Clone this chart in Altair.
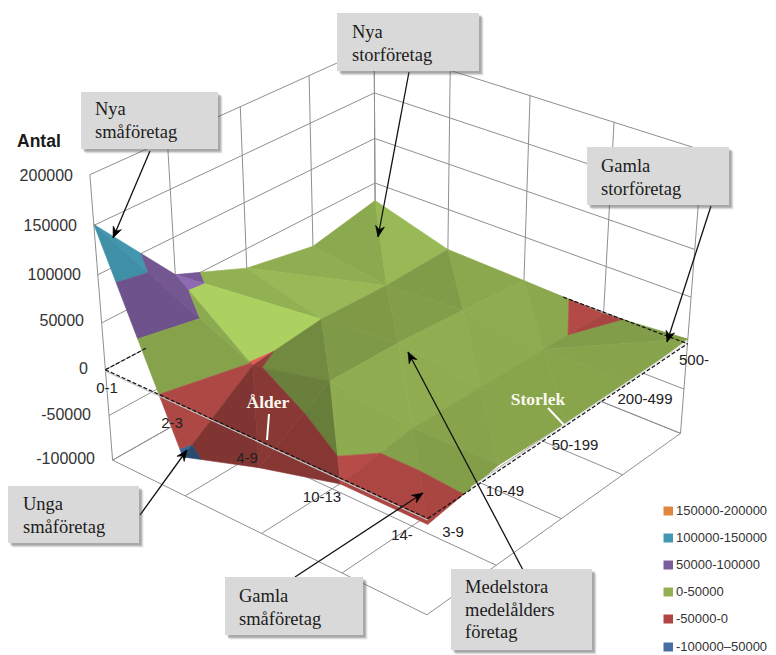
import altair as alt
import numpy as np
import pandas as pd

AGE = ["0-1", "2-3", "4-9", "10-13", "14-"]
SIZE = ["3-9", "10-49", "50-199", "200-499", "500-"]
Z_TICKS = [200000, 150000, 100000, 50000, 0, -50000, -100000]

# antal (thousands): rows = age, columns = size
ANTAL = [
    [151, 61, 29, 15, 30],
    [-57, -2.5, 6, 3, 5],
    [-29, 17, 15, 9, 2],
    [-6, 5, 3, 1, -1.5],
    [-6, 6, 3, 1, 5],
]
# 1: cell is split along (u,v)-(u+1,v+1); 0: along the other diagonal
DIAG = [
    [1, 1, 1, 0],
    [0, 0, 0, 0],
    [0, 0, 0, 0],
    [0, 0, 0, 1],
]

LEGEND_LABELS = ["150000-200000", "100000-150000", "50000-100000", "0-50000", "-50000-0", "-100000–50000"]
LEGEND_COLORS = ["#E0873F", "#4397B0", "#7A5D9B", "#93B055", "#AF4644", "#466EA5"]
BANDS = [(150, 200, "#DE8A3C"), (100, 150, "#4398B0"), (50, 100, "#755793"),
         (0, 50, "#8EAC50"), (-50, 0, "#B84C48"), (-100, -50, "#3D6A9C")]

CALLOUTS = [
    (["Nya", "småföretag"], (81, 92, 218, 149), 95, 115),
    (["Nya", "storföretag"], (337, 13, 479, 71), 352, 38),
    (["Gamla", "storföretag"], (587, 147, 729, 205), 601, 172),
    (["Unga", "småföretag"], (8, 486, 139, 543), 23, 510),
    (["Gamla", "småföretag"], (225, 577, 363, 635), 239, 602),
    (["Medelstora", "medelålders", "företag"], (451, 569, 592, 650), 465, 593),
]
ARROWS = [
    ((150, 151), (113, 238)),
    ((409, 72), (378, 237)),
    ((711, 206), (667, 342)),
    ((140, 515), (187, 450)),
    ((295, 577), (423, 493)),
    ((523, 570), (408, 352)),
]

# camera anchors: (age index, size index, antal/100000) -> picture position
ANCHORS = [
    (0, 0, 2, 90, 175), (0, 0, 0, 104, 369), (0, 0, -1, 113, 458),
    (4, 0, -1, 427, 616), (4, 0, 0, 428, 520),
    (4, 4, 2, 701, 152), (4, 4, 0, 690, 342), (4, 4, -1, 681, 432),
    (0, 4, 2, 375, 45), (0, 4, 0, 375, 226), (0, 4, -1, 375, 315),
    (1, 0, -1, 186, 496), (2, 0, -1, 262, 533), (3, 0, -1, 343, 573),
    (4, 1, -1, 495, 567), (4, 2, -1, 560, 518), (4, 3, -1, 622, 473),
]

A, b = [], []
for u, v, w, x, y in ANCHORS:
    A.append([u, v, w, 1, 0, 0, 0, 0, -x * u, -x * v, -x * w]); b.append(x)
    A.append([0, 0, 0, 0, u, v, w, 1, -y * u, -y * v, -y * w]); b.append(y)
sol = np.linalg.lstsq(np.array(A, float), np.array(b, float), rcond=None)[0]
CAM = np.append(sol, 1).reshape(3, 4)


def proj(u, v, z):
    q = CAM @ np.array([u, v, z / 100.0, 1.0])
    return float(q[0] / q[2]), float(q[1] / q[2])


def clip(poly, lo, hi):
    def cut(pts, keep, limit):
        out = []
        for i, a in enumerate(pts):
            c = pts[(i + 1) % len(pts)]
            ka, kc = keep(a[2]), keep(c[2])
            if ka:
                out.append(a)
            if ka != kc:
                t = (limit - a[2]) / (c[2] - a[2])
                out.append(tuple(a[k] + t * (c[k] - a[k]) for k in range(3)))
        return out
    pts = cut(poly, lambda z: z >= lo, lo)
    if pts:
        pts = cut(pts, lambda z: z <= hi, hi)
    return pts


def shade(tri):
    m = np.array([[t[0], t[1], 1.0] for t in tri])
    zu, zv, _ = np.linalg.solve(m, np.array([t[2] for t in tri]))
    n = np.array([-zu, -zv, 80.0])
    n /= np.linalg.norm(n)
    L = np.array([0.6, 0.15, 0.8])
    L /= np.linalg.norm(L)
    x = float(n @ L)
    return float(np.interp(x, [0.39, 0.60, 0.71, 0.78, 0.85, 0.915, 0.97], [0.70, 0.80, 0.88, 0.95, 1.0, 1.03, 1.22]))


def tint(hexc, s):
    rgb = [int(hexc[i:i + 2], 16) for i in (1, 3, 5)]
    return "#%02x%02x%02x" % tuple(int(min(255, c * s)) for c in rgb)


OX, OY = 8, 8


def poly_feature(pts, color):
    ring = [[x - OX, y - OY] for x, y in pts]
    ring.append(ring[0])
    return {"type": "Feature", "properties": {"c": color},
            "geometry": {"type": "Polygon", "coordinates": [ring]}}


tris = []
for u in range(4):
    for v in range(4):
        c00 = (u, v, ANTAL[u][v])
        c10 = (u + 1, v, ANTAL[u + 1][v])
        c11 = (u + 1, v + 1, ANTAL[u + 1][v + 1])
        c01 = (u, v + 1, ANTAL[u][v + 1])
        tris += [(c00, c10, c11), (c00, c11, c01)] if DIAG[u][v] else [(c00, c10, c01), (c10, c11, c01)]
tris.sort(key=lambda t: sum(q[0] - q[1] for q in t))

surface = []
for tri in tris:
    s = shade(tri)
    for lo, hi, col in BANDS:
        piece = clip(list(tri), lo, hi)
        if len(piece) >= 3:
            surface.append(poly_feature([proj(*q) for q in piece], tint(col, s)))

heads = []
for (x0, y0), (x1, y1) in ARROWS:
    d = np.array([x1 - x0, y1 - y0], float)
    d /= np.linalg.norm(d)
    n = np.array([-d[1], d[0]])
    t = np.array([x1, y1], float)
    heads.append(poly_feature([tuple(t), tuple(t - 11 * d + 4.5 * n), tuple(t - 7.5 * d), tuple(t - 11 * d - 4.5 * n)], "#000000"))

grid = []
Z_LEVELS = [z / 1000 for z in Z_TICKS]
for z in Z_LEVELS:
    grid.append((proj(0, 0, z), proj(0, 4, z)))
    grid.append((proj(0, 4, z), proj(4, 4, z)))
for k in range(5):
    grid.append((proj(0, k, -100), proj(0, k, 200)))
    grid.append((proj(k, 4, -100), proj(k, 4, 200)))
    grid.append((proj(k, 0, -100), proj(k, 4, -100)))
    grid.append((proj(0, k, -100), proj(4, k, -100)))


def seg_df(segs):
    return pd.DataFrame([{"x": a[0], "y": a[1], "x2": c[0], "y2": c[1]} for a, c in segs])


W, H = 760, 647
XS = alt.Scale(domain=[OX, OX + W], nice=False, zero=False)
YS = alt.Scale(domain=[OY + H, OY], nice=False, zero=False)


def rules(segs, **mk):
    return alt.Chart(seg_df(segs)).mark_rule(**mk).encode(
        x=alt.X("x:Q", scale=XS, axis=None), y=alt.Y("y:Q", scale=YS, axis=None),
        x2="x2:Q", y2="y2:Q")


def rects(df, **mk):
    enc = dict(x=alt.X("x:Q", scale=XS, axis=None), y=alt.Y("y:Q", scale=YS, axis=None), x2="x2:Q", y2="y2:Q")
    return alt.Chart(df).mark_rect(**mk).encode(**enc)


def texts(rows, **mk):
    return alt.Chart(pd.DataFrame(rows, columns=["x", "y", "t"])).mark_text(**mk).encode(
        x=alt.X("x:Q", scale=XS, axis=None), y=alt.Y("y:Q", scale=YS, axis=None), text="t:N")


def shapes(features):
    return alt.Chart(alt.Data(values=features)).mark_geoshape(strokeWidth=0.6).encode(
        fill=alt.Fill("properties.c:N", scale=None),
        stroke=alt.Stroke("properties.c:N", scale=None)).project(type="identity", scale=1, translate=[0, 0])


layers = [rules(grid, color="#8f8f8f", strokeWidth=1), shapes(surface)]

# the zero plane, drawn over the surface
outer = [(proj(0, 0, 0), proj(4, 0, 0)), (proj(4, 0, 0), proj(4, 4, 0)),
         (proj(0, 0, 0), proj(0, 0.55, 0)), (proj(2.5, 4, 0), proj(4, 4, 0))]
layers.append(rules([(proj(0, 0, -1.5), proj(4, 0, -1.5))], color="#c4c4c4", strokeWidth=1.2))
layers.append(rules([(proj(4, 0.6, 2), proj(4, 4, 2))], color="#e2e2e2", strokeWidth=1.5))
layers.append(rules(outer, color="#111111", strokeWidth=1.2, strokeDash=[4, 2]))

# white pointers
layers.append(rules([((269, 414), (267, 440)), ((548, 408), (564, 425))], color="#ffffff", strokeWidth=2))
layers.append(texts([(268, 403, "Ålder"), (538, 400, "Storlek")], font="Liberation Serif", fontWeight="bold",
                    fontSize=17.5, color="#f8f8ee", align="center", baseline="middle"))

# axis and category labels
Z_LABEL_POS = [(73, 176), (77, 226), (81, 275), (84, 321), (88, 369), (91, 415), (95, 459)]
layers.append(texts([(x, y, str(t)) for (x, y), t in zip(Z_LABEL_POS, Z_TICKS)], font="Liberation Sans", fontSize=16,
                    color="#333333", align="right", baseline="middle"))
AGE_POS = [(107, 388), (172, 423), (247, 458), (322, 497), (402, 535)]
SIZE_POS = [(453, 532), (505, 491), (575, 445), (645, 399), (694, 360)]
layers.append(texts([(x, y, t) for (x, y), t in zip(AGE_POS + SIZE_POS, AGE + SIZE)], font="Liberation Sans", fontSize=15,
                    color="#222222", align="center", baseline="middle"))
layers.append(texts([(17, 147, "Antal")], font="Liberation Sans", fontWeight="bold", fontSize=17.5,
                    color="#1a1a1a", align="left", baseline="alphabetic"))

# arrows
layers.append(rules([((a[0], a[1]), (c[0], c[1])) for a, c in ARROWS], color="#111111", strokeWidth=1.3))
layers.append(shapes(heads))

# callout boxes with a soft shadow
for off, op in [(4.5, 0.12), (3.5, 0.2), (2.5, 0.3)]:
    df = pd.DataFrame([{"x": c[1][0] + off, "y": c[1][1] + off, "x2": c[1][2] + off, "y2": c[1][3] + off} for c in CALLOUTS])
    layers.append(rects(df, color="#555555", opacity=op))
boxes = pd.DataFrame([{"x": c[1][0], "y": c[1][1], "x2": c[1][2], "y2": c[1][3]} for c in CALLOUTS])
layers.append(rects(boxes, color="#D9D9D9"))
rows = []
for lines, _, tx, ty in CALLOUTS:
    for i, line in enumerate(lines):
        rows.append((tx, ty + i * 22.7, line))
layers.append(texts(rows, font="Liberation Serif", fontSize=18.5, color="#1c1c1c", align="left", baseline="alphabetic"))

# legend
LEG_Y = [511, 538, 565, 592, 619, 647]
swatch = pd.DataFrame([{"x": 663.5, "x2": 673, "y": y - 4.5, "y2": y + 4.5, "c": c} for y, c in zip(LEG_Y, LEGEND_COLORS)])
layers.append(alt.Chart(swatch).mark_rect().encode(
    x=alt.X("x:Q", scale=XS, axis=None), y=alt.Y("y:Q", scale=YS, axis=None), x2="x2:Q", y2="y2:Q",
    fill=alt.Fill("c:N", scale=None)))
layers.append(texts([(676, y, t) for y, t in zip(LEG_Y, LEGEND_LABELS)], font="Liberation Sans", fontSize=13,
                    color="#333333", align="left", baseline="middle"))

chart = alt.layer(*layers).properties(
    width=W, height=H, padding=0, autosize=alt.AutoSizeParams(type="none"), background="white"
).configure_view(stroke=None)

chart.save("out.html", embed_options={"renderer": "svg", "actions": False})
